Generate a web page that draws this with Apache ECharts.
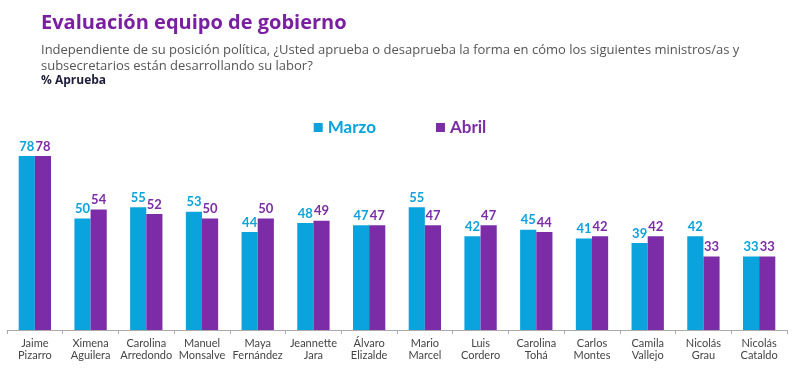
<!DOCTYPE html>
<html><head><meta charset="utf-8">
<script src="https://cdn.jsdelivr.net/npm/echarts@6/dist/echarts.min.js"></script>
<style>html,body{margin:0;padding:0;background:#fff}#c{width:800px;height:385px}</style>
</head><body><div id="c"></div>
<script>
const categories = ["Jaime\nPizarro","Ximena\nAguilera","Carolina\nArredondo","Manuel\nMonsalve","Maya\nFernández","Jeannette\nJara","Álvaro\nElizalde","Mario\nMarcel","Luis\nCordero","Carolina\nTohá","Carlos\nMontes","Camila\nVallejo","Nicolás\nGrau","Nicolás\nCataldo"];
const marzo = [78,50,55,53,44,48,47,55,42,45,41,39,42,33];
const abril = [78,54,52,50,50,49,47,47,47,44,42,42,33,33];
const BLUE = '#0AA3DD', PURPLE = '#7B2CA6';
const FONT = 'Lato, "Open Sans", sans-serif';
const FONT2 = '"Open Sans", Lato, sans-serif';
const chart = echarts.init(document.getElementById('c'));
chart.setOption({
  animation:false,
  textStyle:{fontFamily:FONT},
  title:[
    {text:'Evaluación equipo de gobierno',left:36,top:8,textStyle:{fontFamily:FONT2,fontSize:20,fontWeight:'bold',color:'#7B1FA2'}},
    {text:'Independiente de su posición política, ¿Usted aprueba o desaprueba la forma en cómo los siguientes ministros/as y\nsubsecretarios están desarrollando su labor?',left:36,top:37,textStyle:{fontFamily:FONT2,fontSize:13,fontWeight:'normal',color:'#555',lineHeight:16}},
    {text:'% Aprueba',left:36,top:70,textStyle:{fontFamily:FONT2,fontSize:12,fontWeight:'bold',color:'#1d1d3a'}}
  ],
  legend:{top:114,left:'center',itemGap:60,itemWidth:9,itemHeight:9,icon:'rect',
    data:[{name:'Marzo',textStyle:{color:BLUE}},{name:'Abril',textStyle:{color:PURPLE}}],
    textStyle:{fontFamily:FONT,fontSize:17,fontWeight:'bold'}},
  grid:{left:7,right:13,top:107,bottom:55},
  xAxis:{type:'category',data:categories,
    axisLine:{lineStyle:{color:'#aaa'}},
    axisTick:{show:true,length:4,lineStyle:{color:'#aaa'}},
    axisLabel:{interval:0,color:'#444',fontSize:11,lineHeight:12,margin:7,fontFamily:FONT}},
  yAxis:{type:'value',min:0,max:100,show:false,splitLine:{show:false}},
  series:[
    {name:'Marzo',type:'bar',data:marzo,barGap:'0%',barCategoryGap:'42%',itemStyle:{color:BLUE},
     label:{show:true,position:'top',distance:3,color:BLUE,fontWeight:'bold',fontSize:13,fontFamily:FONT}},
    {name:'Abril',type:'bar',data:abril,itemStyle:{color:PURPLE},
     label:{show:true,position:'top',distance:3,color:PURPLE,fontWeight:'bold',fontSize:13,fontFamily:FONT}}
  ]
});
</script></body></html>
